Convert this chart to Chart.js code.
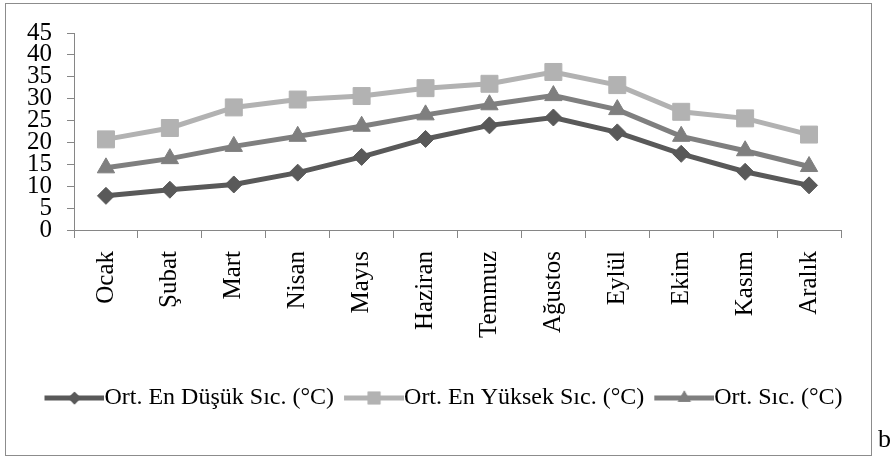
<!DOCTYPE html>
<html>
<head>
<meta charset="utf-8">
<script src="https://cdn.jsdelivr.net/npm/chart.js@4.4.1/dist/chart.umd.min.js"></script>
<style>
  html, body { margin: 0; padding: 0; background: #fff; }
  #wrap { position: relative; width: 891px; height: 459px; }
  #chart { position: absolute; left: 0; top: 0; }
  #tag { position: absolute; left: 878px; top: 424px; font: 26px "Liberation Serif", serif; color: #000; }
</style>
</head>
<body>
<div id="wrap">
  <canvas id="chart" width="891" height="459"></canvas>
  <span id="tag">b</span>
</div>
<script>
const months = ["Ocak", "Şubat", "Mart", "Nisan", "Mayıs", "Haziran", "Temmuz", "Ağustos", "Eylül", "Ekim", "Kasım", "Aralık"];
const lowTemps = [7.8, 9.2, 10.4, 13.1, 16.7, 20.8, 23.9, 25.7, 22.3, 17.4, 13.3, 10.2];
const highTemps = [20.7, 23.3, 28.0, 29.8, 30.6, 32.4, 33.4, 36.1, 33.1, 27.0, 25.5, 21.8];
const meanTemps = [14.2, 16.3, 19.1, 21.4, 23.7, 26.3, 28.6, 30.7, 27.5, 21.4, 18.1, 14.5];
const yTicks = [0, 5, 10, 15, 20, 25, 30, 35, 40, 45];

const serif = "'Liberation Serif', 'Times New Roman', serif";
const axisGray = "#868686";

// legend swatch: short line with the marker in the middle
function swatch(color, style, r) {
  const c = document.createElement("canvas");
  c.width = 72;
  c.height = 20;
  const g = c.getContext("2d");
  g.strokeStyle = color;
  g.lineWidth = 5;
  g.beginPath();
  g.moveTo(12, 10);
  g.lineTo(72, 10);
  g.stroke();
  g.fillStyle = color;
  Chart.helpers.drawPoint(g, { pointStyle: style, radius: r, borderWidth: 0 }, 42, 10);
  g.fill();
  return c;
}

const series = [
  { label: "Ort. En Düşük Sıc. (°C)", data: lowTemps, color: "#595959", style: "rectRot", r: 8.5 },
  { label: "Ort. En Yüksek Sıc. (°C)", data: highTemps, color: "#b2b2b2", style: "rect", r: 12 },
  { label: "Ort. Sıc. (°C)", data: meanTemps, color: "#7f7f7f", style: "triangle", r: 10 }
];

const framePlugin = {
  id: "frame",
  beforeDraw(chart) {
    const ctx = chart.ctx;
    ctx.save();
    ctx.strokeStyle = "#8c8c8c";
    ctx.lineWidth = 1;
    ctx.strokeRect(5.5, 3.5, 866, 452);
    ctx.restore();
  },
  afterLayout(chart) {
    // centre the legend inside the frame rather than the canvas
    chart.legend.left = -4;
    chart.legend.right = 891;
  }
};

const ctx = document.getElementById("chart").getContext("2d");
new Chart(ctx, {
  type: "line",
  data: {
    labels: months,
    datasets: series.map((s) => ({
      label: s.label,
      data: s.data,
      borderColor: s.color,
      backgroundColor: s.color,
      borderWidth: 5,
      tension: 0,
      pointStyle: s.style,
      pointRadius: s.r,
      pointBorderWidth: 1,
      pointBackgroundColor: s.color,
      pointBorderColor: s.color
    }))
  },
  options: {
    responsive: false,
    animation: false,
    layout: { padding: { left: 0, right: 50, top: 33, bottom: 39 } },
    plugins: {
      tooltip: { enabled: false },
      legend: {
        position: "bottom",
        labels: {
          font: { family: serif, size: 24 },
          color: "#000",
          usePointStyle: true,
          pointStyleWidth: 48,
          padding: 10,
          generateLabels(chart) {
            return series.map((s, i) => ({
              text: s.label,
              datasetIndex: i,
              fillStyle: s.color,
              strokeStyle: s.color,
              lineWidth: 0,
              fontColor: "#000",
              pointStyle: swatch(s.color, s.style, s.r * 0.75)
            }));
          }
        }
      }
    },
    scales: {
      x: {
        offset: true,
        grid: {
          offset: true,
          drawOnChartArea: false,
          drawTicks: true,
          tickLength: 8,
          color: axisGray
        },
        border: { color: axisGray, width: 1 },
        ticks: {
          color: "#000",
          font: { family: serif, size: 25 },
          minRotation: 90,
          maxRotation: 90,
          autoSkip: false,
          padding: 13
        },
        afterFit(scale) { scale.height = 146; }
      },
      y: {
        min: 0,
        max: 45,
        grid: {
          drawOnChartArea: false,
          drawTicks: true,
          tickLength: 7,
          color: axisGray
        },
        border: { color: axisGray, width: 1 },
        afterBuildTicks(scale) { scale.ticks = yTicks.map((v) => ({ value: v })); },
        ticks: {
          color: "#000",
          font: { family: serif, size: 25 },
          autoSkip: false,
          padding: 15
        },
        afterFit(scale) { scale.width = 74; }
      }
    }
  },
  plugins: [framePlugin]
});
</script>
</body>
</html>
